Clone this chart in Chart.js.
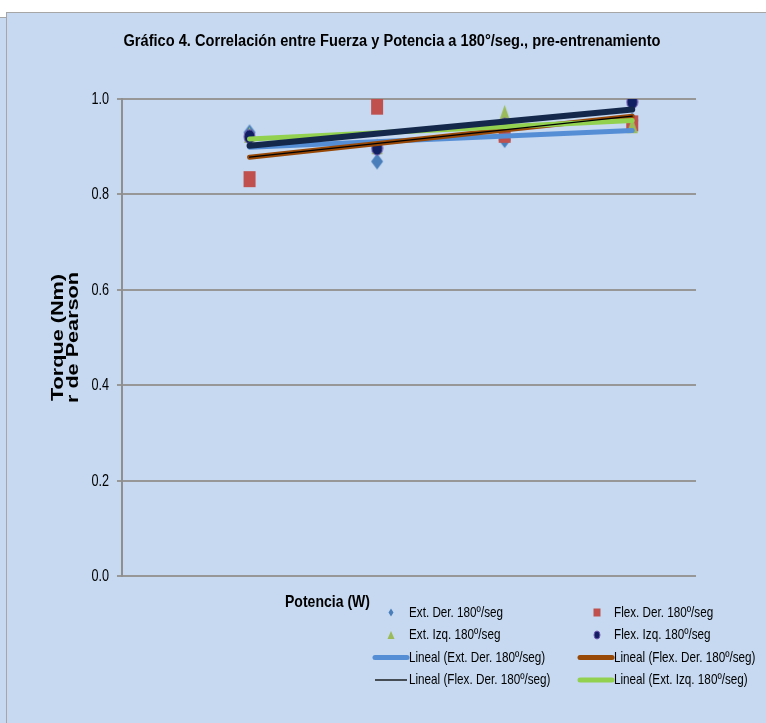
<!DOCTYPE html>
<html>
<head>
<meta charset="utf-8">
<script src="https://cdn.jsdelivr.net/npm/chart.js@4/dist/chart.umd.min.js"></script>
<style>
  html, body { margin: 0; padding: 0; background: #fff; }
  #strip { position: absolute; left: 0; top: 17px; width: 6px; height: 706px; background: #c6d9f1; border-top: 1px solid #a6a6a6; }
  #frame { position: absolute; left: 6px; top: 12px; width: 760px; height: 711px; background: #c6d9f1; border-left: 1px solid #a6a6a6; border-top: 1px solid #a6a6a6; }
  #chart { position: absolute; left: 0; top: 0; }
</style>
</head>
<body>
<div id="strip"></div>
<div id="frame"></div>
<canvas id="chart" width="766" height="723"></canvas>
<script>
// valores
const potencia = [1, 2, 3, 4];
const extDer = [0.930, 0.869, 0.914, 0.955];
const flexDer = [0.832, 0.984, 0.925, 0.949];
const extIzq = [0.925, 0.901, 0.971, 0.945];
const flexIzq = [0.921, 0.897, 0.945, 0.994];

// lineas de tendencia (valor en el primer y ultimo punto)
const tendExtDer = [0.899, 0.934];
const tendFlexDer = [0.878, 0.964];
const tendExtIzq = [0.916, 0.955];
const tendFlexIzq = [0.902, 0.978];

const yTicks = [0, 0.2, 0.4, 0.6, 0.8, 1.0];
const yTickLabels = ['0.0', '0.2', '0.4', '0.6', '0.8', '1.0'];

const SANS = '"Liberation Sans", Arial, sans-serif';

const drawShape = (ctx, shape, cx, cy, w, h, fill, stroke) => {
  ctx.beginPath();
  if (shape === 'diamond') {
    ctx.moveTo(cx, cy - h / 2);
    ctx.lineTo(cx + w / 2, cy);
    ctx.lineTo(cx, cy + h / 2);
    ctx.lineTo(cx - w / 2, cy);
    ctx.closePath();
  } else if (shape === 'square') {
    ctx.rect(cx - w / 2, cy - h / 2, w, h);
  } else if (shape === 'triangle') {
    ctx.moveTo(cx, cy - h / 2);
    ctx.lineTo(cx + w / 2, cy + h / 2);
    ctx.lineTo(cx - w / 2, cy + h / 2);
    ctx.closePath();
  } else {
    ctx.ellipse(cx, cy, w / 2, h / 2, 0, 0, Math.PI * 2);
  }
  ctx.fillStyle = fill;
  ctx.fill();
  if (stroke) {
    ctx.strokeStyle = stroke;
    ctx.lineWidth = 1;
    ctx.stroke();
  }
};

const makeMarker = (shape, w, h, fill, stroke) => {
  const c = document.createElement('canvas');
  c.width = w + 2;
  c.height = h + 2;
  drawShape(c.getContext('2d'), shape, (w + 2) / 2, (h + 2) / 2, w, h, fill, stroke);
  return c;
};

// texto comprimido (la fuente del original es estrecha)
const squeezed = (ctx, text, x, y, sx, align, rot) => {
  ctx.save();
  ctx.translate(x, y);
  if (rot) ctx.rotate(rot);
  ctx.scale(sx, 1);
  ctx.textAlign = align;
  ctx.fillText(text, 0, 0);
  ctx.restore();
};

const pts = (ys) => potencia.map((x, i) => ({ x: x, y: ys[i] }));
const tend = (ends) => [
  { x: potencia[0], y: ends[0] },
  { x: potencia[potencia.length - 1], y: ends[1] },
];

const scatterSet = (label, ys, shape, w, h, fill, stroke, order) => ({
  label: label,
  data: pts(ys),
  shape: shape,
  fill0: fill,
  stroke0: stroke,
  pointStyle: makeMarker(shape, w, h, fill, stroke),
  order: order,
});

const lineSet = (label, ends, color, width, order, inLegend) => ({
  label: label,
  data: tend(ends),
  showLine: true,
  borderColor: color,
  borderWidth: width,
  borderCapStyle: 'round',
  pointRadius: 0,
  order: order,
  inLegend: inLegend,
});

const datasets = [
  scatterSet('Ext. Der. 180º/seg', extDer, 'diamond', 12, 16, '#4a7ebb', null, 8),
  scatterSet('Flex. Der. 180º/seg', flexDer, 'square', 12, 16, '#c0504d', null, 7),
  scatterSet('Ext. Izq. 180º/seg', extIzq, 'triangle', 11, 16, '#9bbb59', null, 6),
  scatterSet('Flex. Izq. 180º/seg', flexIzq, 'circle', 11, 14, '#0f1f62', '#7a5cb4', 5),
  lineSet('Lineal (Ext. Der. 180º/seg)', tendExtDer, '#558ed5', 5, 4, true),
  lineSet('Lineal (Flex. Der. 180º/seg)', tendFlexDer, '#984807', 5, 3, true),
  lineSet('Lineal (Flex. Der. 180º/seg)', tendFlexDer, '#000000', 1.3, 1, true),
  lineSet('Lineal (Ext. Izq. 180º/seg)', tendExtIzq, '#92d050', 5, 2, true),
  lineSet('Lineal (Flex. Izq. 180º/seg)', tendFlexIzq, '#14284b', 6, 0, false),
];

const legendSizes = {
  diamond: [5, 8],
  square: [7, 8],
  triangle: [7, 8],
  circle: [6, 8],
};

const decor = {
  id: 'decor',
  afterDraw(chart) {
    const ctx = chart.ctx;
    const yScale = chart.scales.y;
    ctx.save();
    ctx.fillStyle = '#000';
    ctx.textBaseline = 'middle';

    // titulo
    ctx.font = 'bold 16px ' + SANS;
    const title = 'Gráfico 4. Correlación entre Fuerza y Potencia a 180°/seg., pre-entrenamiento';
    squeezed(ctx, title, 392, 42, 537 / ctx.measureText(title).width, 'center');

    // etiquetas del eje y
    ctx.font = '16px ' + SANS;
    const sTick = 17.6 / ctx.measureText('1.0').width;
    yTicks.forEach((v, i) => {
      squeezed(ctx, yTickLabels[i], 109, yScale.getPixelForValue(v) + 0.5, sTick, 'right');
    });

    // titulo del eje y
    ctx.font = 'bold 16px ' + SANS;
    const sY = 127 / ctx.measureText('Torque (Nm)').width;
    const yMid = (yScale.top + yScale.bottom) / 2;
    squeezed(ctx, 'Torque (Nm)', 58.5, yMid, sY, 'center', -Math.PI / 2);
    squeezed(ctx, 'r de Pearson', 73.5, yMid, sY, 'center', -Math.PI / 2);

    // titulo del eje x
    ctx.font = 'bold 17px ' + SANS;
    squeezed(ctx, 'Potencia (W)', 285, 602, 85 / ctx.measureText('Potencia (W)').width, 'left');

    // leyenda
    ctx.font = '15px ' + SANS;
    const sLeg = 94 / ctx.measureText('Ext. Der. 180º/seg').width;
    const cols = [
      { mark: 391, l0: 375, l1: 407, text: 409 },
      { mark: 597, l0: 580, l1: 612, text: 614 },
    ];
    let k = 0;
    chart.data.datasets.forEach((ds) => {
      if (ds.inLegend === false) return;
      const col = cols[k % 2];
      const y = 612.5 + Math.floor(k / 2) * 22.5;
      if (ds.shape) {
        const s = legendSizes[ds.shape];
        drawShape(ctx, ds.shape, col.mark, y, s[0], s[1], ds.fill0, ds.stroke0);
      } else {
        ctx.beginPath();
        ctx.moveTo(col.l0, y);
        ctx.lineTo(col.l1, y);
        ctx.strokeStyle = ds.borderColor;
        ctx.lineWidth = ds.borderWidth;
        ctx.lineCap = ds.borderWidth > 2 ? 'round' : 'butt';
        ctx.stroke();
      }
      ctx.fillStyle = '#000';
      squeezed(ctx, ds.label, col.text, y, sLeg, 'left');
      k++;
    });
    ctx.restore();
  },
};

new Chart(document.getElementById('chart'), {
  type: 'scatter',
  data: { datasets: datasets },
  options: {
    responsive: false,
    animation: false,
    layout: { padding: { top: 99, right: 70, bottom: 147, left: 0 } },
    plugins: {
      legend: { display: false },
      tooltip: { enabled: false },
      title: { display: false },
    },
    scales: {
      x: { type: 'linear', min: 0, max: 4.5, display: false },
      y: {
        min: 0,
        max: 1,
        afterFit: (scale) => { scale.width = 122; },
        afterBuildTicks: (scale) => { scale.ticks = yTicks.map((v) => ({ value: v })); },
        ticks: { display: false },
        grid: { color: '#979797', lineWidth: 2, tickLength: 5, drawTicks: true },
        border: { display: true, color: '#8f8f8f', width: 2 },
        title: { display: false },
      },
    },
  },
  plugins: [decor],
});
</script>
</body>
</html>
